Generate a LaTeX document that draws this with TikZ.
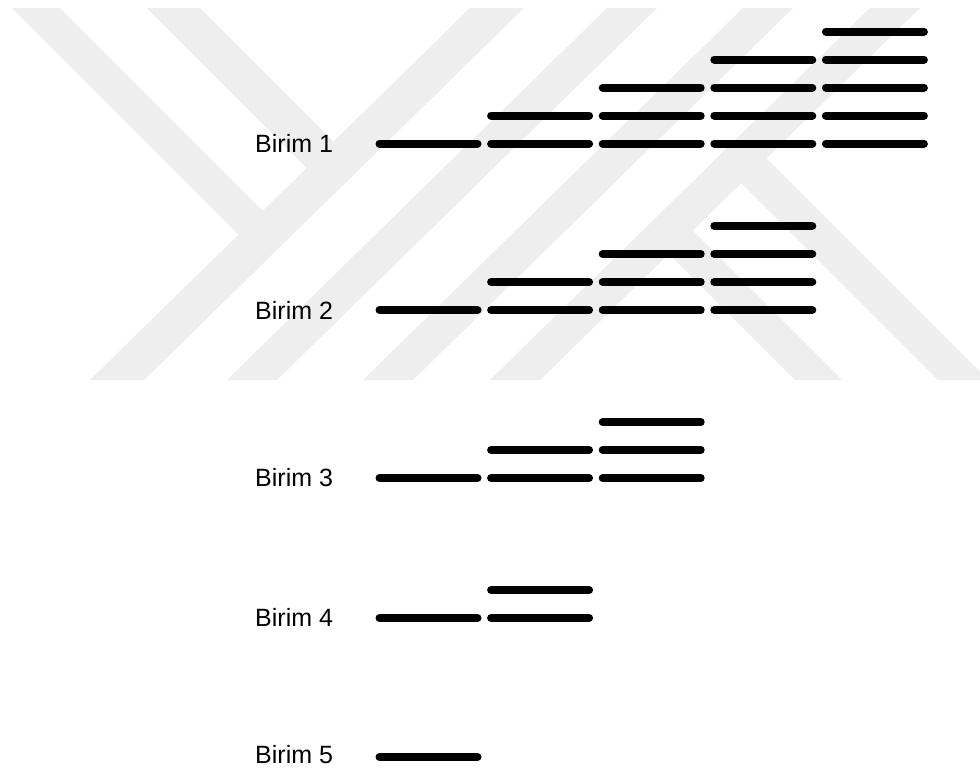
\documentclass[tikz,border=0pt]{standalone}
\usepackage{fontspec}
\setmainfont{Liberation Sans}
\usepackage{tikz}
\definecolor{wmark}{HTML}{EEEEEE}

\begin{document}
\begin{tikzpicture}[x=1pt,y=-1pt,
    bar/.style={line width=8pt,line cap=round},
    lbl/.style={anchor=west,inner sep=0pt,font=\fontsize{25}{30}\selectfont},
    wm/.style={fill=wmark,draw=none}]
    \clip (0,0) rectangle (980,769);
    \fill[white] (0,0) rectangle (980,769);

    \fill[wm] (90,380) -- (144,380) -- (524,8) -- (470,8) -- cycle;
    \fill[wm] (227,380) -- (277,380) -- (657,8) -- (607,8) -- cycle;
    \fill[wm] (363,380) -- (413,380) -- (793,8) -- (743,8) -- cycle;
    \fill[wm] (490,380) -- (540,380) -- (920,8) -- (870,8) -- cycle;
    \fill[wm] (12,8) -- (60,8) -- (275,223) -- (251,247) -- cycle;
    \fill[wm] (147,8) -- (200,8) -- (345,153) -- (319,180) -- cycle;
    \fill[wm] (795,380) -- (842,380) -- (680,218) -- (655,240) -- cycle;
    \fill[wm] (938,380) -- (988,380) -- (755,147) -- (728,170) -- cycle;

    \foreach \n/\y/\t in {5/143.5/143.5,4/310/310,3/478/478,2/618/617,1/757/754.5} {
        \pgfmathtruncatemacro\g{6-\n}
        \node[lbl] (birim\g) at (255,\t) {Birim \g};
        \foreach \k in {1,...,\n}
            \foreach \r in {1,...,\k}
                \draw[bar] ({379.5+111.6*(\k-1)},{\y-28*(\r-1)}) -- ++(98,0);
    }
\end{tikzpicture}
\end{document}
